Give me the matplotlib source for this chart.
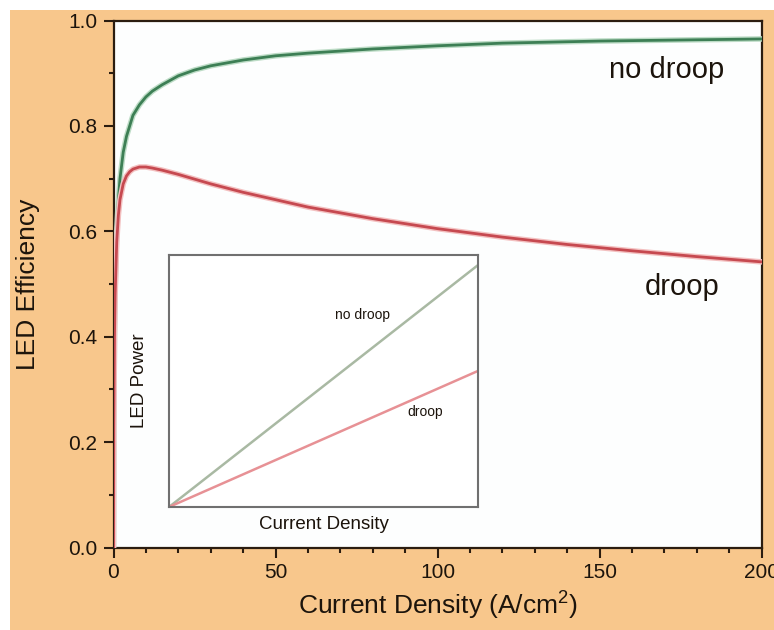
import matplotlib
matplotlib.use("Agg")
import matplotlib.pyplot as plt
from matplotlib.patches import Rectangle
from matplotlib.ticker import MultipleLocator, FormatStrFormatter

plt.rcParams["font.family"] = ["Liberation Sans", "DejaVu Sans"]
plt.rcParams["mathtext.fontset"] = "custom"
plt.rcParams["mathtext.rm"] = "Liberation Sans"
plt.rcParams["mathtext.it"] = "Liberation Sans:italic"

# Current density (A/cm^2) and LED efficiency for the two cases
current_no_droop = [0, 0.1, 0.3, 0.5, 1, 1.5, 2, 3, 4, 5, 6, 8, 10, 12, 15, 20,
                    25, 30, 40, 50, 60, 80, 100, 120, 150, 175, 200]
eff_no_droop = [0, 0.24, 0.40, 0.49, 0.60, 0.66, 0.70, 0.75, 0.78, 0.80, 0.82,
                0.84, 0.855, 0.866, 0.878, 0.895, 0.906, 0.914, 0.925, 0.933,
                0.938, 0.946, 0.952, 0.957, 0.961, 0.963, 0.965]

current_droop = [0, 0.1, 0.3, 0.5, 1, 1.5, 2, 3, 4, 5, 6, 8, 10, 12, 15, 20,
                 25, 30, 40, 50, 60, 80, 100, 120, 140, 160, 180, 200]
eff_droop = [0, 0.23, 0.40, 0.48, 0.58, 0.63, 0.66, 0.69, 0.705, 0.713, 0.718,
             0.722, 0.722, 0.720, 0.716, 0.708, 0.699, 0.690, 0.674, 0.660,
             0.646, 0.624, 0.605, 0.589, 0.575, 0.563, 0.552, 0.542]

# Inset: LED output power versus current density (arbitrary units)
inset_current = [0, 1]
power_no_droop = [0, 0.96]
power_droop = [0, 0.54]

x_ticks = [0, 50, 100, 150, 200]
y_ticks = [0.0, 0.2, 0.4, 0.6, 0.8, 1.0]

ORANGE = "#f8c78c"
INK = "#1c140c"
SPINE = "#2b1d10"

fig = plt.figure(figsize=(7.74, 6.30), dpi=100, facecolor="white")
fig.patches.append(Rectangle((10 / 774, 0), 1 - 10 / 774, 620 / 630,
                             transform=fig.transFigure, facecolor=ORANGE,
                             edgecolor="none", zorder=-10))

ax = fig.add_axes([113.5 / 774, 1 - 547.5 / 630, 648 / 774, 527 / 630])
ax.set_zorder(1)
ax.set_facecolor("#fdfefe")

ax.plot(current_no_droop, eff_no_droop, color="#bddcc6", lw=4.0,
        solid_capstyle="round", zorder=3)
ax.plot(current_no_droop, eff_no_droop, color="#3d7f55", lw=2.0, zorder=3.1)
ax.plot(current_droop, eff_droop, color="#f3c0c0", lw=4.0,
        solid_capstyle="round", zorder=3.2)
ax.plot(current_droop, eff_droop, color="#c64950", lw=2.0, zorder=3.3)

ax.set_xlim(0, 200)
ax.set_ylim(0, 1.0)
ax.set_xticks(x_ticks)
ax.set_yticks(y_ticks)
ax.xaxis.set_minor_locator(MultipleLocator(10))
ax.yaxis.set_minor_locator(MultipleLocator(0.1))
ax.yaxis.set_major_formatter(FormatStrFormatter("%.1f"))
ax.tick_params(which="both", direction="out", colors=SPINE, width=1.5,
               top=False, right=False, labelsize=15, labelcolor=INK)
ax.tick_params(which="major", length=7, pad=4.5)
ax.tick_params(which="minor", length=3.5)
for s in ax.spines.values():
    s.set_color(SPINE)
    s.set_linewidth(1.6)

ax.set_xlabel("Current Density (A/cm$^2$)", fontsize=19, color=INK, va="center")
ax.xaxis.set_label_coords(0.5, -0.111)
ax.set_ylabel("LED Efficiency", fontsize=19, color=INK, va="center")
ax.yaxis.set_label_coords(-0.132, 0.5)

ax.text(170.8, 0.906, "no droop", fontsize=21, color=INK, ha="center", va="center")
ax.text(175.5, 0.494, "droop", fontsize=21, color=INK, ha="center", va="center")

# Inset
ins = fig.add_axes([169 / 774, 1 - 507 / 630, 309 / 774, 252 / 630])
ins.set_zorder(2)
ins.set_facecolor("white")
ins.plot(inset_current, power_no_droop, color="#a9b9a3", lw=1.8)
ins.plot(inset_current, power_droop, color="#e79195", lw=1.8)
ins.set_xlim(0, 1)
ins.set_ylim(0, 1)
ins.set_xticks([])
ins.set_yticks([])
for s in ins.spines.values():
    s.set_color("#707070")
    s.set_linewidth(1.5)
ins.set_xlabel("Current Density", fontsize=13.5, color=INK, va="center")
ins.xaxis.set_label_coords(0.5, -0.071)
ins.set_ylabel("LED Power", fontsize=13.5, color=INK, va="center")
ins.yaxis.set_label_coords(-0.094, 0.5)
ins.text(0.625, 0.762, "no droop", fontsize=10, color=INK, ha="center", va="center")
ins.text(0.828, 0.377, "droop", fontsize=10, color=INK, ha="center", va="center")

fig.savefig("out.png", dpi=100, facecolor=fig.get_facecolor())
